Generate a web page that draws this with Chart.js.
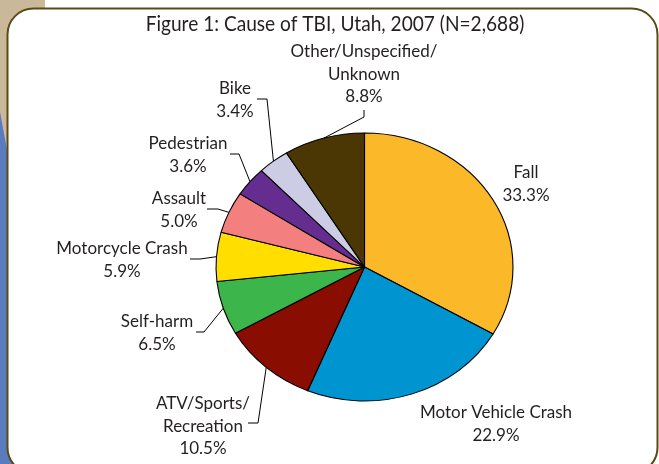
<!DOCTYPE html>
<html>
<head>
<meta charset="utf-8">
<script src="https://cdn.jsdelivr.net/npm/chart.js@4.4.1/dist/chart.umd.min.js"></script>
<style>
  html, body { margin: 0; padding: 0; background: #ffffff; }
  #wrap { width: 659px; height: 464px; }
</style>
</head>
<body>
<div id="wrap"><canvas id="myChart" width="659" height="464"></canvas></div>
<script>
// data
const causes = ['Fall', 'Motor Vehicle Crash', 'ATV/Sports/Recreation', 'Self-harm',
  'Motorcycle Crash', 'Assault', 'Pedestrian', 'Bike', 'Other/Unspecified/Unknown'];
const percents = [33.3, 22.9, 10.5, 6.5, 5.9, 5.0, 3.6, 3.4, 8.8];
const labelLines = [['Fall'], ['Motor Vehicle Crash'], ['ATV/Sports/', 'Recreation'], ['Self-harm'],
  ['Motorcycle Crash'], ['Assault'], ['Pedestrian'], ['Bike'], ['Other/Unspecified/', 'Unknown']];
const sliceColors = ['#FBB829', '#0095D1', '#8A0D02', '#3CB54A', '#FFDE00',
  '#F37F7F', '#652D90', '#CDCCE5', '#4A3704'];
const titleText = 'Figure 1: Cause of TBI, Utah, 2007 (N=2,688)';

// layout (label centres and the bent part of each leader line)
const labelPos = [[526, 173], [496, 413], [203, 404], [157, 322], [122, 249],
  [179, 199], [188, 144], [235, 89], [364, 52]];
const leaders = [null, null, [[248, 423], [258, 423]], [[196, 332], [204, 332]], [[190, 259], [200, 259]],
  [[207, 209], [218, 209]], [[230, 154], [239, 154]], [[257, 99], [267, 99]], [[364, 110], [364, 117]]];
const stretchX = 1.108;      // the pie in the figure is a little wider than tall
const titleSqueeze = 0.91;
const labelSqueeze = 1.0;
const lineGap = 22.5;
const inkColor = '#231F20';

const backdrop = {
  id: 'backdrop',
  beforeDraw(chart) {
    const ctx = chart.ctx;
    ctx.save();
    ctx.fillStyle = '#ffffff';
    ctx.fillRect(0, 0, 659, 464);
    ctx.fillStyle = '#C9B99A';
    ctx.fillRect(0, 0, 45, 464);
    ctx.fillStyle = '#5A7BBE';
    ctx.beginPath();
    ctx.moveTo(0, 112); ctx.lineTo(45, 355); ctx.lineTo(45, 464); ctx.lineTo(0, 464);
    ctx.closePath(); ctx.fill();
    // rounded white panel
    ctx.beginPath();
    ctx.roundRect(7.5, 8.5, 650, 465, 26);
    ctx.fillStyle = '#ffffff';
    ctx.fill();
    ctx.lineWidth = 2;
    ctx.strokeStyle = '#5A4A14';
    ctx.stroke();
    ctx.restore();
  }
};

const squash = {
  id: 'squash',
  beforeDatasetsDraw(chart) {
    const arc = chart.getDatasetMeta(0).data[0];
    const ctx = chart.ctx;
    ctx.save();
    ctx.translate(arc.x, arc.y);
    ctx.scale(stretchX, 1);
    ctx.translate(-arc.x, -arc.y);
  },
  afterDatasetsDraw(chart) {
    chart.ctx.restore();
  }
};

function squeezedText(ctx, text, x, y, sq) {
  ctx.save();
  ctx.translate(x, y);
  ctx.scale(sq, 1);
  ctx.fillText(text, 0, 0);
  ctx.restore();
}

const sliceLabels = {
  id: 'sliceLabels',
  afterDraw(chart) {
    const ctx = chart.ctx;
    const arcs = chart.getDatasetMeta(0).data;
    ctx.save();
    ctx.fillStyle = inkColor;
    ctx.textAlign = 'center';
    ctx.textBaseline = 'middle';
    ctx.font = '21px Lato';
    squeezedText(ctx, titleText, 335, 24, titleSqueeze);

    ctx.font = '17px Lato';
    arcs.forEach((arc, i) => {
      const lines = labelLines[i].concat(percents[i].toFixed(1) + '%');
      const [lx, ly] = labelPos[i];
      lines.forEach((t, k) => squeezedText(ctx, t, lx, ly + k * lineGap, labelSqueeze));

      if (leaders[i]) {
        const mid = (arc.startAngle + arc.endAngle) / 2;
        const ax = arc.x + stretchX * arc.outerRadius * Math.cos(mid);
        const ay = arc.y + arc.outerRadius * Math.sin(mid);
        ctx.beginPath();
        ctx.moveTo(leaders[i][0][0], leaders[i][0][1]);
        ctx.lineTo(leaders[i][1][0], leaders[i][1][1]);
        ctx.lineTo(ax, ay);
        ctx.lineWidth = 1;
        ctx.strokeStyle = '#000000';
        ctx.stroke();
      }
    });
    ctx.restore();
  }
};

document.addEventListener('DOMContentLoaded', () => {
  const chart = document.getElementById('myChart').getContext('2d');
  new Chart(chart, {
    type: 'pie',
    data: {
      labels: causes,
      datasets: [{
        data: percents,
        backgroundColor: sliceColors,
        borderColor: '#000000',
        borderWidth: 1
      }]
    },
    options: {
      responsive: false,
      animation: false,
      layout: { padding: { left: 230, right: 160, top: 132, bottom: 62 } },
      plugins: {
        legend: { display: false },
        tooltip: { enabled: false },
        title: { display: false }
      }
    },
    plugins: [backdrop, squash, sliceLabels]
  });
});
</script>
</body>
</html>
